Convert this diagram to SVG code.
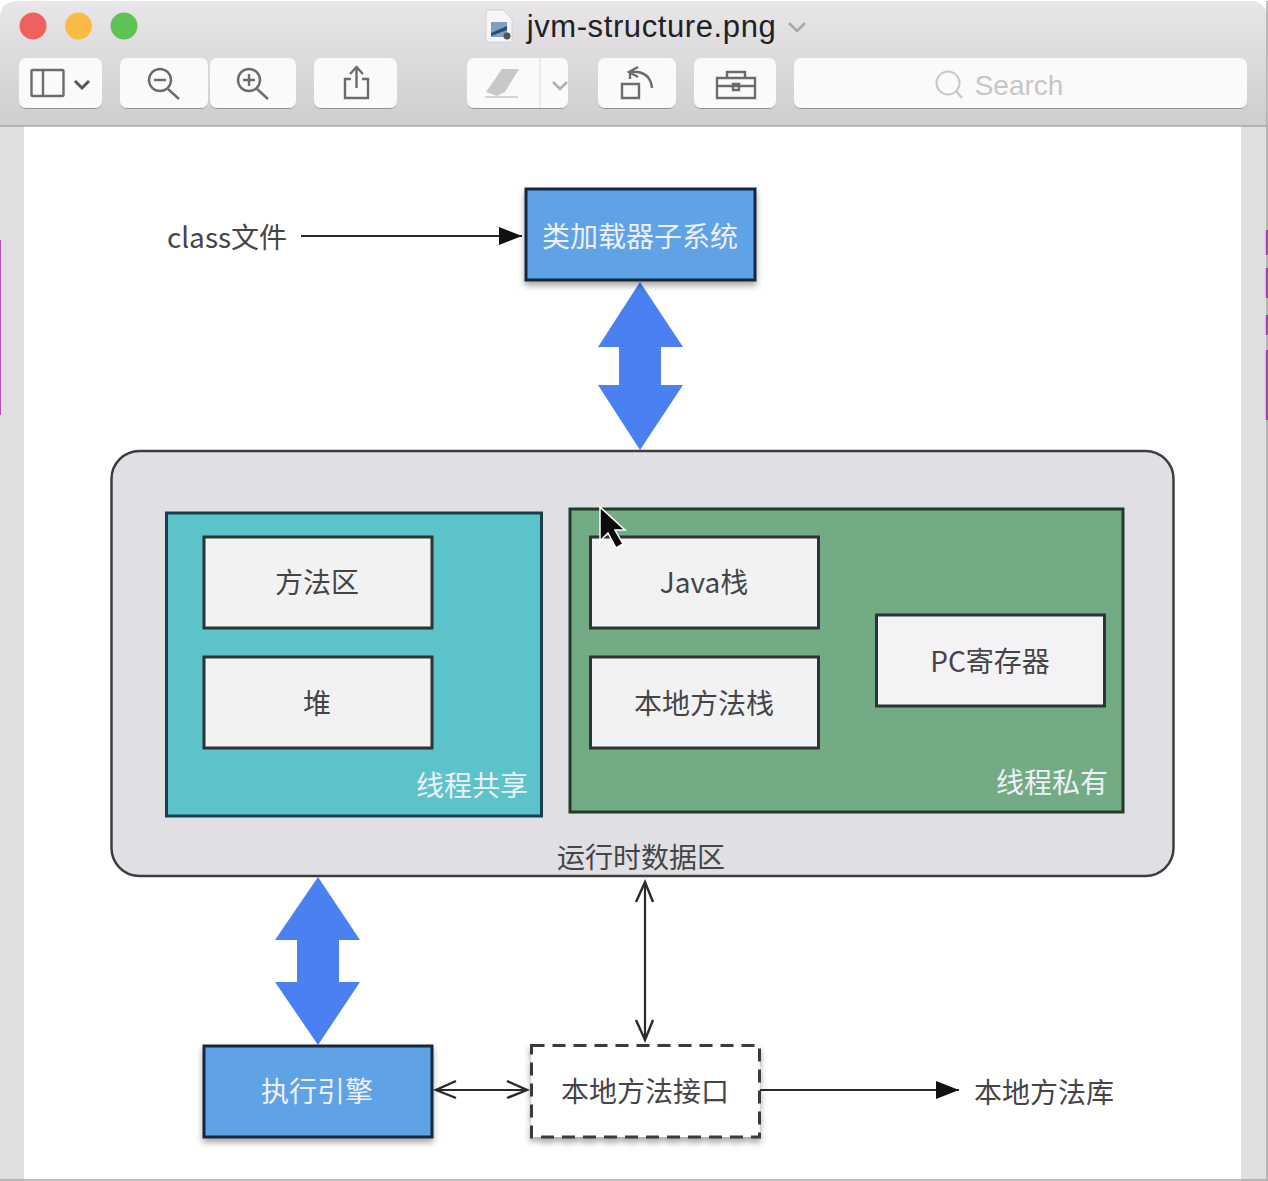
<svg xmlns="http://www.w3.org/2000/svg" width="1268" height="1181" viewBox="0 0 1268 1181">
<style>
text{font-family:"Noto Sans CJK SC","Liberation Sans",sans-serif;text-anchor:middle;font-weight:400}
.lbl{font-size:28px;fill:#454548}
.wht{font-size:28px;fill:#eef0f6}
.box{fill:#f2f2f3;stroke:#2c3533;stroke-width:3}
.blue{fill:#5ea2e6;stroke:#16283c;stroke-width:3;filter:url(#sh)}
.big{fill:#4a80f0}
.btn{fill:#fbfafb;filter:url(#bs)}
.ic{fill:none;stroke:#6c6c6c;stroke-width:2.4}
.ln{fill:none;stroke:#2a2a2c;stroke-width:2.2}
.op{fill:none;stroke:#2a2a2c;stroke-width:2.4}
</style>
<defs>
<linearGradient id="bar" x1="0" y1="0" x2="0" y2="1"><stop offset="0" stop-color="#e9e6ea"/><stop offset="1" stop-color="#cfcdd0"/></linearGradient>
<filter id="sh" x="-10%" y="-10%" width="120%" height="125%"><feDropShadow dx="0" dy="4" stdDeviation="3" flood-color="#000" flood-opacity=".35"/></filter>
<filter id="bs" x="-5%" y="-5%" width="110%" height="115%"><feDropShadow dx="0" dy="1" stdDeviation=".7" flood-color="#000" flood-opacity=".3"/></filter>
<marker id="tri" markerWidth="24" markerHeight="20" refX="23" refY="10" orient="auto" markerUnits="userSpaceOnUse"><path d="M0 1 23 10 0 19z" fill="#111"/></marker>
</defs>
<rect width="1268" height="1181" fill="#fff"/>
<rect x="0" y="126" width="24" height="1055" fill="#dfdee0"/>
<rect x="1241" y="126" width="27" height="1055" fill="#dfdee0"/>
<path d="M0 126V18Q0 1 18 1H1250Q1267 1 1267 18V126z" fill="url(#bar)"/>
<path d="M0 126H1267" stroke="#a9a8aa" stroke-width="1.5"/>
<path d="M1267 1V1181M0 1180H1267" stroke="#a9a8aa" stroke-width="1.5"/>
<path d="M0 240V415" stroke="#b54bc4" stroke-width="2"/>
<path d="M1267 230V255M1267 268V298M1267 315V335M1267 350V420" stroke="#a63fc0" stroke-width="2.5"/>
<circle cx="33" cy="26" r="13.5" fill="#f0605c"/><circle cx="78.500" cy="26" r="13.500" fill="#f9bb45"/><circle cx="124" cy="26" r="13.500" fill="#5cc354"/>
<g id="doc-icon"><path d="M486 10H503L512 19V42H486z" fill="#f7f7f9" stroke="#d0d0d4"/><rect x="491" y="22" width="16" height="15" fill="#7fa0c4"/><path d="M491 33 507 26V30L491 36z" fill="#2b4a78"/><circle cx="507" cy="36" r="3.500" fill="#555"/></g>
<text x="651.500" y="37" style="font-family:'Liberation Sans',sans-serif;font-size:31px;letter-spacing:.6px;fill:#212123">jvm-structure.png</text>
<path d="M789 23 797 31 805 23" fill="none" stroke="#a8a7a9" stroke-width="2.500"/>
<g id="toolbar">
<rect class="btn" x="19" y="58" width="83" height="50" rx="7"/>
<rect class="btn" x="120" y="58" width="88" height="50" rx="7"/>
<rect class="btn" x="210" y="58" width="86" height="50" rx="7"/>
<rect class="btn" x="314" y="58" width="83" height="50" rx="7"/>
<rect class="btn" x="467" y="58" width="101" height="50" rx="7"/>
<rect class="btn" x="598" y="58" width="78" height="50" rx="7"/>
<rect class="btn" x="694" y="58" width="82" height="50" rx="7"/>
<rect class="btn" x="794" y="58" width="453" height="50" rx="7"/>
<path d="M540 58V108" stroke="#dcdcdc"/>
<rect class="ic" x="31.500" y="70" width="32" height="26" rx="1"/><path class="ic" d="M43 70V96"/>
<path d="M75 81 82 88 89 81" fill="none" stroke="#555" stroke-width="3"/>
<circle class="ic" cx="160" cy="80" r="11"/><path class="ic" d="M168 89 179 99M154 80H166"/>
<circle class="ic" cx="249" cy="80" r="11"/><path class="ic" d="M257 89 268 99M243 80H255M249 74V86"/>
<path class="ic" d="M351 79H345V98H368V79H362M356.500 88V68M350 74 356.500 67 363 74"/>
<path d="M486 92 502 69H519L505 92 497 96z" fill="#c8c8c8"/><path d="M485 97H518" stroke="#d5d5d5" stroke-width="2"/>
<path d="M553 82 560 89 567 82" fill="none" stroke="#b0b0b0" stroke-width="2.500"/>
<path class="ic" d="M622 84H639V98H622zM630 79V72Q650 70 652 88M638 67 629 72 638 77"/>
<path class="ic" d="M717 86V98H755V78H717V86H755M727 78V72H745V78M733 84H739V90H733z"/>
<circle cx="948" cy="83" r="11.500" fill="none" stroke="#c8c8c8" stroke-width="2"/><path d="M956 91 962 98" stroke="#c8c8c8" stroke-width="2.500"/>
<text x="1019" y="95" style="font-family:'Liberation Sans',sans-serif;font-size:28px;fill:#c6c6c6">Search</text>
</g>
<g id="connectors">
<path class="ln" d="M301 236H522" marker-end="url(#tri)"/>
<path class="big" d="M640 282 683 347H661V385H683L640 450 598 385H619V347H598z"/>
<path class="big" d="M318 877 360 940H339V982H360L318 1045 275 982H297V940H275z"/>
<path class="ln" d="M645 884V1038"/><path class="op" d="M636 902 645 882 653 902M636 1020 645 1040 653 1020"/>
<path class="ln" d="M438 1090H526"/><path class="op" d="M456 1081 436 1090 456 1098M507 1081 527 1090 507 1098"/>
<path class="ln" d="M760 1090H959" marker-end="url(#tri)"/>
</g>
<g id="class-file"><text class="lbl" x="227" y="248">class文件</text></g>
<g id="loader"><rect class="blue" x="526" y="189" width="229" height="91"/><text class="wht" x="640" y="247">类加载器子系统</text></g>
<g id="runtime"><rect x="111.500" y="451" width="1062" height="425" rx="28" fill="#e0dfe3" stroke="#3e3c40" stroke-width="2.500"/><text class="lbl" x="641" y="868">运行时数据区</text></g>
<g id="shared"><rect x="166.500" y="513" width="375" height="303" fill="#5bc3c9" stroke="#1a3f4c" stroke-width="3"/><text class="wht" x="472" y="796">线程共享</text></g>
<g id="private"><rect x="570" y="509" width="553" height="303" fill="#73ab84" stroke="#223a2a" stroke-width="3"/><text class="wht" x="1052" y="793">线程私有</text></g>
<g id="method-area"><rect class="box" x="204" y="537" width="228" height="91"/><text class="lbl" x="317" y="593">方法区</text></g>
<g id="heap"><rect class="box" x="204" y="657" width="228" height="91"/><text class="lbl" x="317" y="714">堆</text></g>
<g id="java-stack"><rect class="box" x="590.500" y="537" width="228" height="91"/><text class="lbl" x="704" y="593">Java栈</text></g>
<g id="native-stack"><rect class="box" x="590.500" y="657" width="228" height="91"/><text class="lbl" x="704" y="714">本地方法栈</text></g>
<g id="pc"><rect class="box" x="876.500" y="615" width="228" height="91" style="fill:#f5f2f6"/><text class="lbl" x="990" y="672">PC寄存器</text></g>
<g id="engine"><rect class="blue" x="204" y="1046" width="228" height="91"/><text class="wht" x="317" y="1102">执行引擎</text></g>
<g id="native-interface"><rect x="531.500" y="1045.500" width="228" height="91.500" fill="#fff" stroke="#3a3a3c" stroke-width="3" stroke-dasharray="13 8" filter="url(#sh)"/><text class="lbl" x="645" y="1102">本地方法接口</text></g>
<g id="native-lib"><text class="lbl" x="1044" y="1103">本地方法库</text></g>
<path d="M600 507V541L608 533 616 548 623 544 615 530H625z" fill="#0c0c0c" stroke="#fff" stroke-width="1.500"/>
</svg>
